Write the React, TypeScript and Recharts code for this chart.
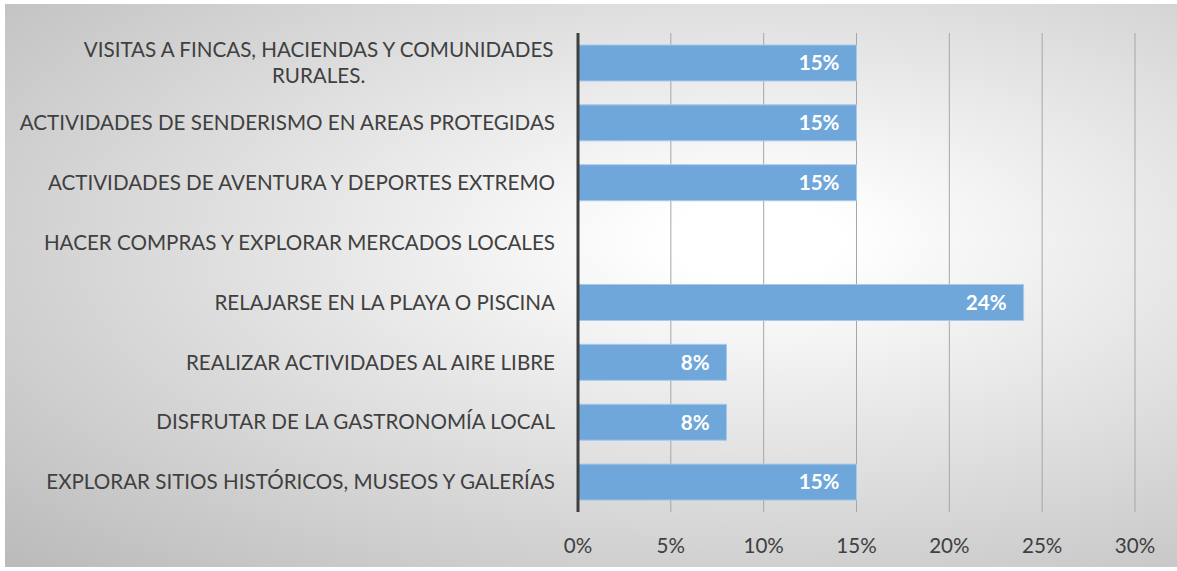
import { Bar, BarChart, CartesianGrid, LabelList, XAxis, YAxis } from 'recharts';

const categories = [
  'VISITAS A FINCAS, HACIENDAS Y COMUNIDADES\nRURALES.',
  'ACTIVIDADES DE SENDERISMO EN AREAS PROTEGIDAS',
  'ACTIVIDADES DE AVENTURA Y DEPORTES EXTREMO',
  'HACER COMPRAS Y EXPLORAR MERCADOS LOCALES',
  'RELAJARSE EN LA PLAYA O PISCINA',
  'REALIZAR ACTIVIDADES AL AIRE LIBRE',
  'DISFRUTAR DE LA GASTRONOMÍA LOCAL',
  'EXPLORAR SITIOS HISTÓRICOS, MUSEOS Y GALERÍAS',
];
const values = [0.15, 0.15, 0.15, 0, 0.24, 0.08, 0.08, 0.15];
const xTicks = [0, 0.05, 0.1, 0.15, 0.2, 0.25, 0.3];

const data = categories.map((name, i) => ({ name, value: values[i] }));

const FONT = 'Lato, "Open Sans", sans-serif';
const TEXT = '#404040';
const FS = 20.6;

const measure = (s: string) => {
  const ctx = document.createElement('canvas').getContext('2d');
  if (!ctx) return s.length * 11;
  ctx.font = `${FS}px ${FONT}`;
  return ctx.measureText(s).width;
};

const CategoryTick = ({ x, y, payload }: { x: number; y: number; payload: { value: string } }) => {
  const lines = String(payload.value).split('\n');
  if (lines.length === 1) {
    return (
      <text x={x} y={y} dy='0.35em' textAnchor='end' fill={TEXT} fontSize={FS} fontFamily={FONT}>
        {lines[0]}
      </text>
    );
  }
  const w = Math.max(...lines.map(measure));
  const cx = x - w / 2;
  const lh = 26;
  const top = y - ((lines.length - 1) * lh) / 2;
  return (
    <text x={cx} y={top} textAnchor='middle' fill={TEXT} fontSize={FS} fontFamily={FONT}>
      {lines.map((l, i) => (
        <tspan key={i} x={cx} y={top + i * lh} dy='0.35em'>
          {l}
        </tspan>
      ))}
    </text>
  );
};

export default function App() {
  return (
    <div style={{ position: 'absolute', left: 0, top: 0, width: 1177, height: 571, background: '#fff' }}>
      <div
        style={{
          position: 'absolute',
          left: 5,
          top: 4,
          width: 1172,
          height: 563,
          background:
            'radial-gradient(ellipse farthest-corner at 64% 42%, #ffffff 0%, #ffffff 8%, #bababa 100%)',
        }}
      />
      <div style={{ position: 'absolute', left: 0, top: 0 }}>
        <BarChart
          width={1177}
          height={571}
          data={data}
          layout='vertical'
          margin={{ top: 33, right: 42, bottom: 29, left: 0 }}
          barCategoryGap='20%'
        >
          <CartesianGrid horizontal={false} stroke='#a6a6a6' strokeWidth={1} />
          <XAxis
            type='number'
            domain={[0, 0.3]}
            ticks={xTicks}
            tickFormatter={(v: number) => `${Math.round(v * 100)}%`}
            axisLine={false}
            tickLine={false}
            tickSize={0}
            tickMargin={26}
            height={30}
            tick={{ fill: TEXT, fontSize: FS, fontFamily: FONT }}
          />
          <YAxis
            type='category'
            dataKey='name'
            width={578}
            axisLine={{ stroke: '#404040', strokeWidth: 3 }}
            tickLine={false}
            tickSize={0}
            tickMargin={23}
            interval={0}
            tick={CategoryTick as any}
          />
          <Bar dataKey='value' fill='#6fa7da' stroke='#a9c9ea' strokeWidth={1} isAnimationActive={false}>
            <LabelList
              dataKey='value'
              position='insideRight'
              offset={17}
              formatter={(v: number) => (v ? `${Math.round(v * 100)}%` : '')}
              fill='#ffffff'
              fontSize={FS}
              fontWeight='bold'
              fontFamily={FONT}
            />
          </Bar>
        </BarChart>
      </div>
    </div>
  );
}
